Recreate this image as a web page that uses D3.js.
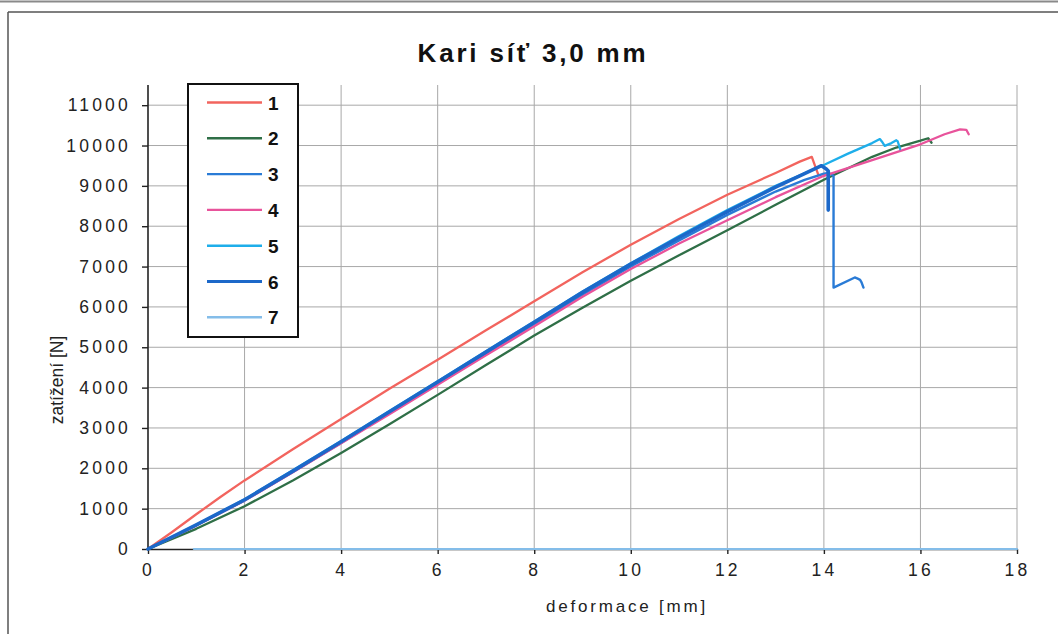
<!DOCTYPE html>
<html>
<head>
<meta charset="utf-8">
<script src="https://cdn.jsdelivr.net/npm/d3@7"></script>
<style>
  html, body { margin: 0; padding: 0; background: #fff; }
  #chart { width: 1058px; height: 634px; }
</style>
</head>
<body>
<div id="chart"></div>
<script>
const width = 1058;
const height = 634;

// ------------------
// DATA
// ------------------

const xTicks = [0, 2, 4, 6, 8, 10, 12, 14, 16, 18];
const yTicks = [0, 1000, 2000, 3000, 4000, 5000, 6000, 7000, 8000, 9000, 10000, 11000];
const seriesNames = ["1", "2", "3", "4", "5", "6", "7"];

// [deformace mm, zatížení kN]
const s1 = [[0,0],[0.5,0.42],[1,0.86],[1.5,1.29],[2,1.7],[3,2.47],[4,3.22],[5,3.97],[6,4.69],[7,5.42],[8,6.14],[9,6.86],[10,7.54],[11,8.18],[12,8.78],[13,9.32],[13.5,9.6],[13.75,9.72],[13.8,9.55],[13.88,9.29]];
const s2 = [[0,0],[1,0.5],[2,1.06],[3,1.7],[4,2.38],[5,3.09],[6,3.82],[7,4.56],[8,5.29],[9,5.98],[10,6.65],[11,7.28],[12,7.9],[13,8.53],[14,9.15],[15,9.72],[15.5,9.95],[16,10.12],[16.16,10.18],[16.23,10.07]];
const s3 = [[0,0],[1,0.59],[2,1.2],[3,1.91],[4,2.63],[5,3.37],[6,4.1],[7,4.84],[8,5.57],[9,6.3],[10,7.0],[11,7.65],[12,8.28],[13,8.86],[13.6,9.15],[14.0,9.3],[14.1,9.32],[14.2,9.25],[14.2,6.48],[14.64,6.73],[14.7,6.7],[14.75,6.67],[14.78,6.61],[14.82,6.48]];
const s4 = [[0,0],[1,0.58],[2,1.2],[3,1.9],[4,2.62],[5,3.34],[6,4.07],[7,4.8],[8,5.52],[9,6.25],[10,6.94],[11,7.57],[12,8.15],[13,8.72],[14,9.25],[15,9.64],[16,10.03],[16.5,10.28],[16.82,10.4],[16.95,10.39],[17.0,10.28]];
const s5 = [[0,0],[1,0.6],[2,1.23],[3,1.95],[4,2.68],[5,3.42],[6,4.16],[7,4.9],[8,5.64],[9,6.38],[10,7.08],[11,7.76],[12,8.4],[13,9.0],[14.02,9.53],[14.5,9.8],[15,10.06],[15.16,10.16],[15.2,10.1],[15.26,9.99],[15.4,10.06],[15.5,10.13],[15.53,10.1],[15.58,9.91]];
const s6 = [[0,0],[1,0.6],[2,1.22],[3,1.93],[4,2.66],[5,3.4],[6,4.14],[7,4.88],[8,5.62],[9,6.36],[10,7.06],[11,7.72],[12,8.36],[13,8.97],[13.5,9.25],[13.95,9.5],[14.05,9.42],[14.09,9.37],[14.09,8.4]];
const s7 = [[0.95,0],[18,0]];

const seriesData = [s1, s2, s3, s4, s5, s6, s7];
const colors = ["#f2645e", "#2f6f47", "#2a7bd6", "#e8539b", "#1eaeea", "#1c68c9", "#84bde9"];
const widths = [2.3, 2.3, 2.4, 2.3, 2.3, 3.6, 2.2];

// ------------------
// SVG
// ------------------

const svg = d3.select("#chart")
    .append("svg")
    .attr("width", width)
    .attr("height", height)
    .style("font-family", "'Liberation Sans', Arial, sans-serif");

// cadre
svg.append("line").attr("x1", 0).attr("x2", width).attr("y1", 1.5).attr("y2", 1.5)
    .attr("stroke", "#8a8a8a").attr("stroke-width", 2);
svg.append("line").attr("x1", 8).attr("x2", width).attr("y1", 12).attr("y2", 12)
    .attr("stroke", "#555").attr("stroke-width", 1.5);
svg.append("line").attr("x1", 8).attr("x2", 8).attr("y1", 12).attr("y2", height)
    .attr("stroke", "#555").attr("stroke-width", 1.5);

const x = d3.scaleLinear().domain([0, 18]).range([148, 1017]);
const y = d3.scaleLinear().domain([0, 11500]).range([549, 85]);

// ------------------
// GRID
// ------------------

svg.append("g")
    .selectAll("line")
    .data(xTicks.slice(1))
    .enter()
    .append("line")
    .attr("x1", d => x(d)).attr("x2", d => x(d))
    .attr("y1", y(0)).attr("y2", y(11500))
    .attr("stroke", "#a8a8a8")
    .attr("stroke-width", 1);

svg.append("g")
    .selectAll("line")
    .data(yTicks.slice(1))
    .enter()
    .append("line")
    .attr("x1", x(0)).attr("x2", x(18))
    .attr("y1", d => y(d)).attr("y2", d => y(d))
    .attr("stroke", "#a8a8a8")
    .attr("stroke-width", 1);

// ------------------
// AXES
// ------------------

const xAxis = svg.append("g")
    .attr("transform", `translate(0,${y(0)})`)
    .call(d3.axisBottom(x).tickValues(xTicks).tickSize(5).tickPadding(10).tickSizeOuter(0));

const yAxis = svg.append("g")
    .attr("transform", `translate(${x(0)},0)`)
    .call(d3.axisLeft(y).tickValues(yTicks).tickFormat(d3.format("d")).tickSize(6).tickPadding(11).tickSizeOuter(0));

[xAxis, yAxis].forEach(a => {
    a.select(".domain").attr("stroke", "#222").attr("stroke-width", 1.6);
    a.selectAll(".tick line").attr("stroke", "#222").attr("stroke-width", 1.4);
    a.selectAll(".tick text")
        .attr("fill", "#222")
        .style("font-size", "17.5px")
        .style("letter-spacing", "3.2px")
        .style("font-family", "'Liberation Sans', Arial, sans-serif");
});
yAxis.select(".domain").attr("d", `M0,${y(0)}V${y(11500)}`);

// ------------------
// LINES
// ------------------

const line = d3.line()
    .x(d => x(d[0]))
    .y(d => y(d[1] * 1000));

seriesData.forEach((data, i) => {
    svg.append("path")
        .datum(data)
        .attr("d", line)
        .attr("fill", "none")
        .attr("stroke", colors[i])
        .attr("stroke-width", widths[i])
        .attr("stroke-linejoin", "round")
        .attr("stroke-linecap", "round");
});

// ------------------
// TEXTS
// ------------------

svg.append("text")
    .attr("x", 533)
    .attr("y", 62)
    .attr("text-anchor", "middle")
    .attr("fill", "#111")
    .style("font-size", "26px")
    .style("font-weight", "bold")
    .style("letter-spacing", "2.8px")
    .text("Kari síť 3,0 mm");

svg.append("text")
    .attr("x", 627)
    .attr("y", 612)
    .attr("text-anchor", "middle")
    .attr("fill", "#222")
    .style("font-size", "17px")
    .style("letter-spacing", "2.8px")
    .text("deformace [mm]");

svg.append("text")
    .attr("transform", `translate(63,380) rotate(-90)`)
    .attr("text-anchor", "middle")
    .attr("fill", "#222")
    .style("font-size", "17.5px")
    .text("zatížení [N]");

// ------------------
// LEGEND
// ------------------

const legend = svg.append("g");

legend.append("rect")
    .attr("x", 188)
    .attr("y", 84)
    .attr("width", 110)
    .attr("height", 253)
    .attr("fill", "#fff")
    .attr("stroke", "#111")
    .attr("stroke-width", 2);

const item = legend.selectAll(".item")
    .data(seriesNames)
    .enter()
    .append("g")
    .attr("transform", (d, i) => `translate(0,${102.5 + i * 35.8})`);

item.append("line")
    .attr("x1", 207).attr("x2", 262)
    .attr("y1", 0).attr("y2", 0)
    .attr("stroke", (d, i) => colors[i])
    .attr("stroke-width", (d, i) => i === 5 ? 3.2 : 2.4);

item.append("text")
    .attr("x", 268)
    .attr("y", 7)
    .attr("fill", "#111")
    .style("font-size", "19px")
    .style("font-weight", "bold")
    .text(d => d);
</script>
</body>
</html>
